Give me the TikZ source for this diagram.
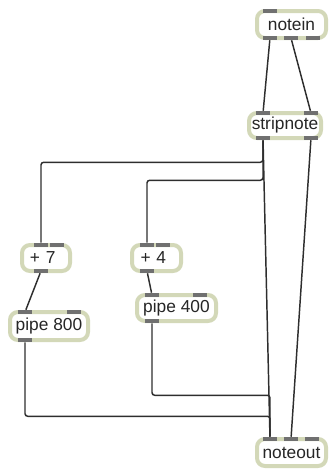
\documentclass[tikz,border=0pt]{standalone}
\usepackage{fontspec}
\setmainfont{Liberation Sans}
\definecolor{boxrim}{HTML}{D3D8B8}
\definecolor{portgray}{HTML}{707070}
\definecolor{wiregray}{HTML}{2E2E2E}

\begin{document}
\begin{tikzpicture}[
        x=0.75pt, y=-0.75pt,
        font=\fontsize{13}{15}\selectfont,
        maxbox/.style={
            rectangle, draw=boxrim, line width=3pt,
            fill=white, rounded corners=6pt,
            inner sep=0pt, outer sep=0pt, text=black!85
        },
        port/.style={
            rectangle, fill=portgray, minimum width=10.5pt,
            minimum height=3pt, inner sep=0pt
        },
        wire/.style={draw=wiregray, line width=1.1pt, rounded corners=2pt}
    ]

    \useasboundingbox (0,0) rectangle (331,469);

    % Objects
    \node[maxbox, minimum width=51.75pt, minimum height=20.25pt]
        (notein) at (291.5,24.5) {notein};
    \node[maxbox, minimum width=54pt, minimum height=18.75pt]
        (strip) at (285,125.5) {stripnote};
    \node[maxbox, minimum width=36pt, minimum height=19.5pt,
        text width=24pt, align=left]
        (plus7) at (46,258) {+ 7};
    \node[maxbox, minimum width=36.75pt, minimum height=19.5pt,
        text width=24pt, align=left]
        (plus4) at (156.5,258) {+ 4};
    \node[maxbox, minimum width=58.5pt, minimum height=21pt]
        (pipe8) at (49,326) {pipe 800};
    \node[maxbox, minimum width=59.25pt, minimum height=19.5pt]
        (pipe4) at (176.5,308) {pipe 400};
    \node[maxbox, minimum width=51.75pt, minimum height=20.25pt]
        (noteout) at (291.5,452.5) {noteout};

    % Inlets and outlets
    \node[port] (ni-i1) at (270,0 |- notein.north) {};
    \node[port] (ni-o1) at (270,0 |- notein.south) {};
    \node[port] (ni-o2) at (291,0 |- notein.south) {};
    \node[port] (ni-o3) at (313,0 |- notein.south) {};

    \node[port] (sn-i1) at (263,0 |- strip.north) {};
    \node[port] (sn-i2) at (311,0 |- strip.north) {};
    \node[port] (sn-o1) at (263,0 |- strip.south) {};
    \node[port] (sn-o2) at (311,0 |- strip.south) {};

    \node[port] (p7-i1) at (41,0 |- plus7.north) {};
    \node[port] (p7-i2) at (57,0 |- plus7.north) {};
    \node[port] (p7-o1) at (41,0 |- plus7.south) {};

    \node[port] (p4-i1) at (147,0 |- plus4.north) {};
    \node[port] (p4-i2) at (163,0 |- plus4.north) {};
    \node[port] (p4-o1) at (147,0 |- plus4.south) {};

    \node[port] (pp8-i1) at (25,0 |- pipe8.north) {};
    \node[port] (pp8-i2) at (74,0 |- pipe8.north) {};
    \node[port] (pp8-o1) at (25,0 |- pipe8.south) {};

    \node[port] (pp4-i1) at (152,0 |- pipe4.north) {};
    \node[port] (pp4-i2) at (200,0 |- pipe4.north) {};
    \node[port] (pp4-o1) at (152,0 |- pipe4.south) {};

    \node[port] (no-i1) at (270,0 |- noteout.north) {};
    \node[port] (no-i2) at (291,0 |- noteout.north) {};
    \node[port] (no-i3) at (312,0 |- noteout.north) {};

    % Patch cords
    \draw[wire] (ni-o1) -- (sn-i1);
    \draw[wire] (ni-o2) -- (sn-i2);
    \draw[wire] (sn-o1.south) -- ++(0,22) -| (p7-i1.north);
    \draw[wire] (sn-o1.south) -- ++(0,40) -| (p4-i1.north);
    \draw[wire] (sn-o1) -- (no-i1);
    \draw[wire] (sn-o2) -- (no-i2);
    \draw[wire] (p7-o1) -- (pp8-i1);
    \draw[wire] (p4-o1) -- (pp4-i1);
    \draw[wire] (pp8-o1.south) -- ++(0,74) -| (no-i1.north);
    \draw[wire] (pp4-o1.south) -- ++(0,72) -| (no-i1.north);

\end{tikzpicture}
\end{document}
